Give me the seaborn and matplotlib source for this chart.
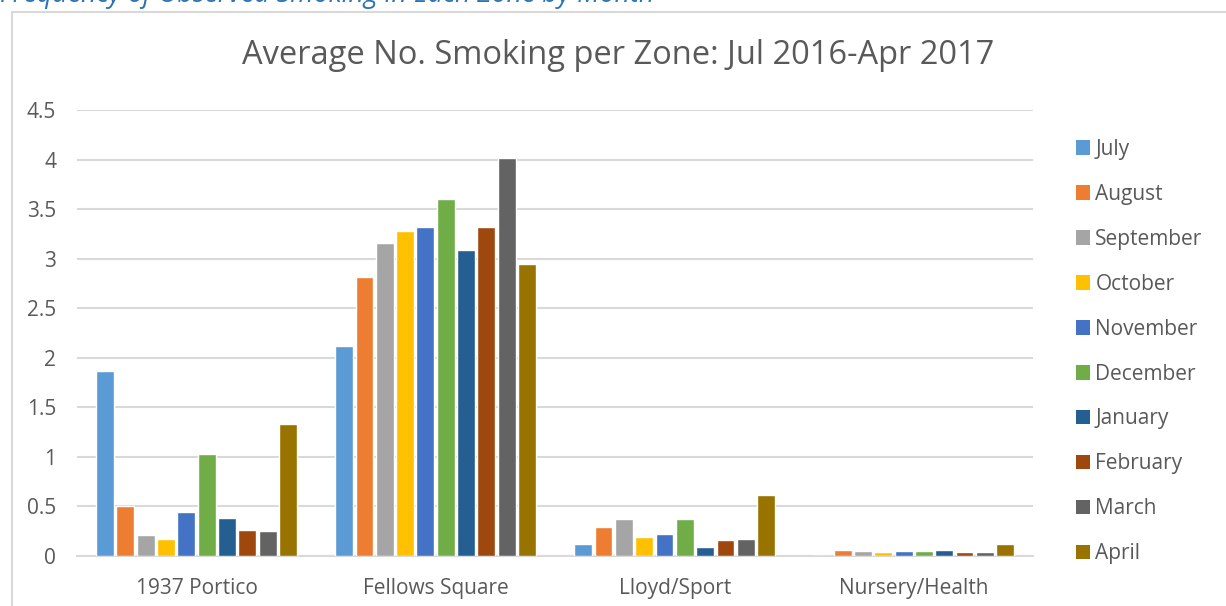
import pandas as pd
import numpy as np
import seaborn as sns
import matplotlib.pyplot as plt
from matplotlib.patches import Rectangle, Patch

# Data
zones = ["1937 Portico", "Fellows Square", "Lloyd/Sport", "Nursery/Health"]
months = ["July", "August", "September", "October", "November",
          "December", "January", "February", "March", "April"]
portico = [1.87, 0.50, 0.21, 0.17, 0.44, 1.03, 0.38, 0.26, 0.25, 1.33]
fellows = [2.12, 2.82, 3.16, 3.28, 3.32, 3.60, 3.09, 3.32, 4.02, 2.95]
lloyd = [0.12, 0.29, 0.37, 0.19, 0.22, 0.37, 0.09, 0.16, 0.17, 0.62]
nursery = [0.00, 0.06, 0.05, 0.04, 0.05, 0.05, 0.06, 0.04, 0.04, 0.12]
month_colors = ["#5B9BD5", "#ED7D31", "#A5A5A5", "#FFC000", "#4472C4",
                "#70AD47", "#255E91", "#9E480E", "#636363", "#997300"]

rows = []
for zone, vals in zip(zones, [portico, fellows, lloyd, nursery]):
    for m, v in zip(months, vals):
        rows.append({"Zone": zone, "Month": m, "Value": v})
df = pd.DataFrame(rows)

sns.set_style("white")
plt.rcParams["font.family"] = ["Open Sans", "DejaVu Sans"]
text_grey = "#595959"

fig = plt.figure(figsize=(12.26, 6.06), dpi=100)
ax = fig.add_axes([0.0628, 0.0825, 0.78, 0.736])

sns.barplot(data=df, x="Zone", y="Value", hue="Month", order=zones,
            hue_order=months, palette=month_colors, saturation=1,
            width=0.85, gap=0.12, ax=ax, legend=False, zorder=3)

ax.set_ylim(0, 4.5)
ax.set_yticks(np.arange(0, 4.51, 0.5))
ax.set_yticklabels(["0", "0.5", "1", "1.5", "2", "2.5", "3", "3.5", "4", "4.5"])
ax.yaxis.grid(True, color="#D9D9D9", linewidth=1.5, zorder=0)
ax.set_axisbelow(True)
for s in ["top", "right", "left"]:
    ax.spines[s].set_visible(False)
ax.spines["bottom"].set_color("#D9D9D9")
ax.spines["bottom"].set_linewidth(1.5)
ax.tick_params(axis="both", length=0, labelsize=15, colors=text_grey)
ax.tick_params(axis="x", pad=16)
ax.tick_params(axis="y", pad=15)
ax.set_xlabel("")
ax.set_ylabel("")

# Chart title
fig.text(0.504, 0.908, "Average No. Smoking per Zone: Jul 2016-Apr 2017",
         ha="center", va="center", fontsize=23.5, color=text_grey)

# Legend on the right
handles = [Patch(facecolor=c, edgecolor="none") for c in month_colors]
fig.legend(handles, months, loc="upper left", bbox_to_anchor=(0.862, 0.802),
           frameon=False, fontsize=15, labelcolor=text_grey,
           handlelength=0.7, handleheight=0.7, handletextpad=0.25,
           labelspacing=1.15)

# Chart frame and cut-off heading above it
fig.add_artist(Rectangle((12 / 1226, -0.01), 1.0, 1 - 12 / 606 + 0.01,
                         transform=fig.transFigure, fill=False,
                         edgecolor="#D9D9D9", linewidth=1.5))
fig.text(0.0, 1 - 2 / 606, "Frequency of Observed Smoking in Each Zone by Month",
         ha="left", va="baseline", fontsize=19.3, style="italic", color="#2E74B5")

fig.savefig("out.png", dpi=100)
